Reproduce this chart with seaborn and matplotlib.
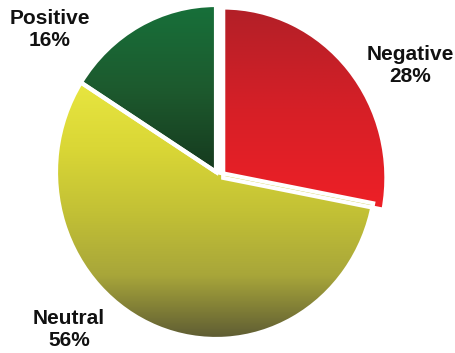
import numpy as np
import matplotlib
matplotlib.use("Agg")
import matplotlib.pyplot as plt
import seaborn as sns

# Sentiment shares
labels = ["Negative", "Neutral", "Positive"]
shares = [28, 56, 16]

# Vertical gradient stops (top to bottom) for each slice
grad_stops = [
    ["#b21f27", "#d62027", "#ee1f26"],
    ["#e8e640", "#dad736", "#c3c135", "#a8a63a", "#5c5a33"],
    ["#17703a", "#1d5a2e", "#163a1e"],
]

sns.set_style("white")
plt.rcParams["font.family"] = ["Liberation Sans", "DejaVu Sans"]

W, H = 456, 353
fig = plt.figure(figsize=(W / 100, H / 100), dpi=100)

# Pie centre at pixel (216, 172); 160 px per unit across, 167 px per unit down
cx, cy, sx, sy = 216, 172, 160, 167
xl, yl = 1.15, 1.03
ax = fig.add_axes([(cx - xl * sx) / W, (H - (cy + yl * sy)) / H,
                   2 * xl * sx / W, 2 * yl * sy / H])
wedges, _ = ax.pie(shares, startangle=90, counterclock=False,
                   wedgeprops=dict(edgecolor="white", linewidth=3))
ax.axis("off")

# Pull the negative slice slightly out to the right
wedges[0].set_center((0.045, -0.035))
wedges[0].set_radius(1.02)

ramp = np.linspace(0, 1, 256).reshape(-1, 1)
for w, stops in zip(wedges, grad_stops):
    verts = w.get_patch_transform().transform(w.get_path().vertices)
    x0, y0 = verts.min(axis=0)
    x1, y1 = verts.max(axis=0)
    cmap = sns.blend_palette(stops, as_cmap=True)
    im = ax.imshow(ramp, cmap=cmap, extent=[x0, x1, y0, y1], aspect="auto",
                   origin="upper", zorder=1, interpolation="bilinear")
    im.set_clip_path(w)
    w.set_facecolor("none")
    w.set_zorder(2)

ax.set_xlim(-xl, xl)
ax.set_ylim(-yl, yl)
ax.set_aspect("auto")

# Slice labels, centred at pixel positions
label_pos = {"Negative": (410, 65), "Neutral": (69, 330), "Positive": (50, 29)}
for name, val in zip(labels, shares):
    px, py = label_pos[name]
    fig.text(px / W, 1 - py / H, f"{name}\n{val}%", ha="center", va="center",
             fontsize=15, fontweight="bold", color="#111111", linespacing=1.2)

fig.savefig("out.png", dpi=100)
